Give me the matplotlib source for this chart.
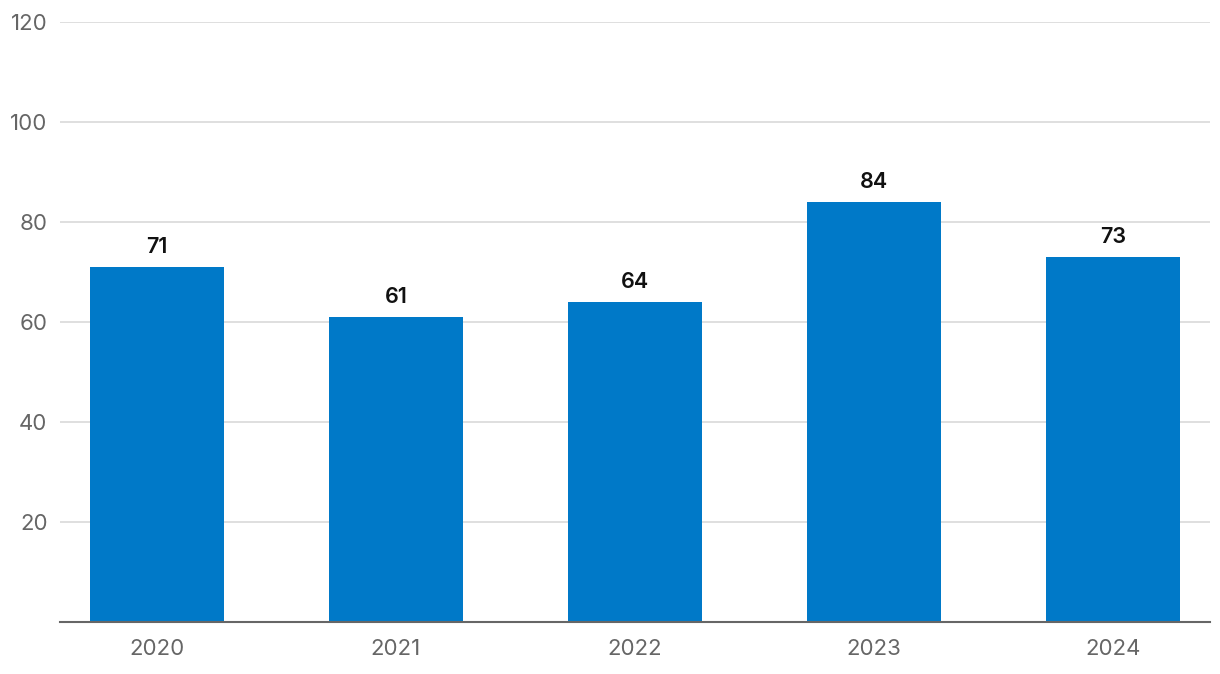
import matplotlib.pyplot as plt

years = ["2020", "2021", "2022", "2023", "2024"]
values = [71, 61, 64, 84, 73]
y_ticks = [20, 40, 60, 80, 100, 120]

plt.rcParams['font.family'] = ['Inter', 'DejaVu Sans']

fig = plt.figure(figsize=(12.2, 6.74), dpi=100)
ax = fig.add_axes([60 / 1220, 52 / 674, 1150 / 1220, 600 / 674])

xs = range(len(years))
bars = ax.bar(xs, values, width=0.56, color="#0079C8", zorder=3)

for x, v in zip(xs, values):
    ax.annotate(str(v), (x, v), xytext=(0, 7), textcoords="offset points",
                ha="center", va="bottom", fontsize=15.5, fontweight="semibold", color="#111111")

ax.set_xlim(-0.405, 4.405)
ax.set_ylim(0, 120)
ax.set_yticks(y_ticks)
ax.set_xticks(list(xs))
ax.set_xticklabels(years)

ax.grid(axis="y", color="#d9d9d9", linewidth=1.2, zorder=0)
for s in ["top", "right", "left"]:
    ax.spines[s].set_visible(False)
ax.spines["bottom"].set_color("#666666")
ax.spines["bottom"].set_linewidth(1.5)
ax.spines["bottom"].set_zorder(4)

ax.tick_params(axis="y", length=0, pad=9, labelsize=16, labelcolor="#666666")
ax.tick_params(axis="x", length=0, pad=12, labelsize=16, labelcolor="#666666")

fig.savefig("out.png", dpi=100)
